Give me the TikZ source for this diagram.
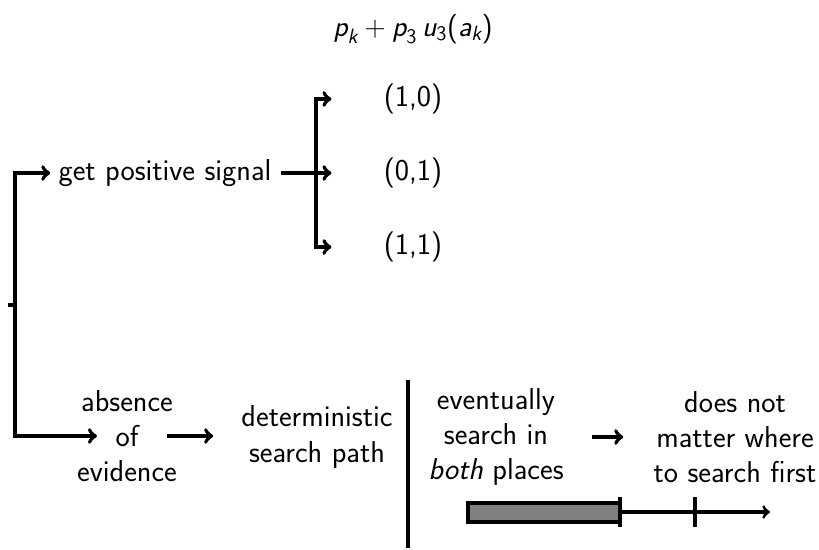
\documentclass[tikz,border=0pt]{standalone}
\usepackage{amsmath}
\usepackage{fontspec}
\usepackage{tikz}
\usetikzlibrary{arrows}
\renewcommand{\familydefault}{\sfdefault}

\begin{document}
\begin{tikzpicture}[x=0.025cm,y=-0.025cm,node distance=1.85cm]

\tikzstyle{label} =
[inner sep=0pt,
align=center,
font=\fontsize{21.5}{25}\selectfont]

\tikzstyle{flow} =
[->,
line width=2.8pt]

\useasboundingbox (0,0) rectangle (819,550);

\node (title) [label, font=\fontsize{21}{24}\selectfont] at (413,29)
{$\textit{p}_{\textit{k}} + \textit{p}_{\text{3}}\,\textit{u}_{\text{3}}\text{(}\textit{a}_{\textit{k}}\text{)}$};

\node (signal) [label] at (165,173) {get positive signal};

\node (s01) [label] at (413,173) {(0,1)};
\node (s10) [label, above of=s01] {(1,0)};
\node (s11) [label, below of=s01] {(1,1)};

\node (absence) [label] at (127,436) {absence\\of\\evidence};
\node (determ) [label] at (317,437) {deterministic\\search path};
\node (both) [label] at (496,437) {eventually\\search in\\\textit{both} places};
\node (nomatter) [label] at (735,437) {does not\\matter where\\to search first};

\coordinate (root) at (15,305);
\coordinate (fork) at (316,173);

\draw[line width=2.8pt] (root) -- ++(-7,0);
\draw[flow, shorten >=0.2cm] (root) |- (signal);
\draw[flow] (root) |- ([xshift=-0.75cm]absence.center);

\draw[flow, shorten <=0.22cm, shorten >=1.3cm] (signal) -- (s01);
\draw[flow, shorten >=1.3cm] (fork) |- (s10);
\draw[flow, shorten >=1.3cm] (fork) |- (s11);

\draw[flow, shorten <=1cm, shorten >=0.7cm] (absence.center) -- (absence.center -| determ.west);
\draw[flow, shorten <=0.7cm, shorten >=0.75cm] (both) -- (nomatter);

% separator
\draw[line width=2.8pt] (408,380) -- (408,548);

% time line
\draw[line width=2.8pt, fill=gray] (468,503) rectangle (620,522);
\draw[->, line width=2.3pt] (620,512) -- (770,512);
\draw[line width=2.3pt] (620,497) -- (620,527);
\draw[line width=2.3pt] (695,497) -- (695,527);

\end{tikzpicture}
\end{document}
